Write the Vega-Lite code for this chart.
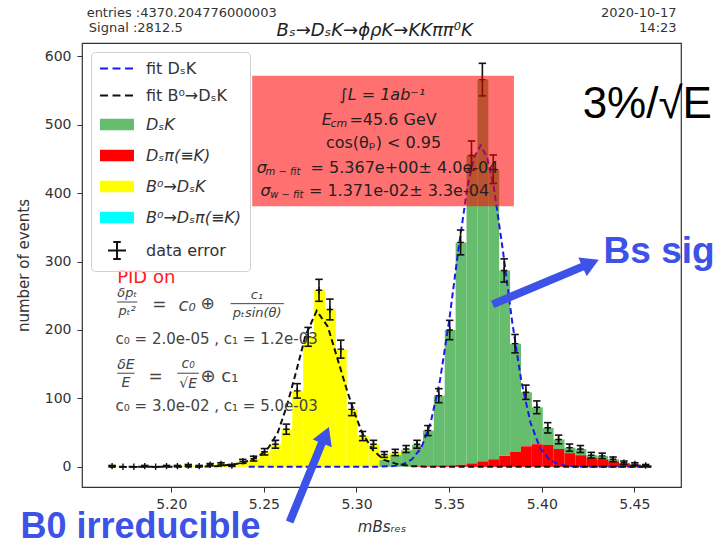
{
  "$schema": "https://vega.github.io/schema/vega-lite/v6.json",
  "width": 599,
  "height": 444,
  "autosize": {"type": "none"},
  "padding": {"left": 82, "top": 43, "right": 39, "bottom": 58},
  "background": "white",
  "config": {
    "font": "DejaVu Sans",
    "view": {"stroke": "#333", "strokeWidth": 1.2},
    "axis": {"grid": false, "domain": false, "tickColor": "#333", "tickSize": 5, "labelColor": "#333", "labelFontSize": 14, "titleColor": "#333", "titleFontSize": 15, "titleFontWeight": "normal", "labelFont": "DejaVu Sans", "titleFont": "DejaVu Sans"}
  },
  "data": {"values": [{}]},
  "datasets": {
    "hist": [
      {"lo": 5.1651, "hi": 5.17098, "comp": "B⁰→DₛK", "n": 1},
      {"lo": 5.18274, "hi": 5.18862, "comp": "B⁰→DₛK", "n": 1},
      {"lo": 5.1945, "hi": 5.20038, "comp": "B⁰→DₛK", "n": 1},
      {"lo": 5.20038, "hi": 5.20626, "comp": "B⁰→DₛK", "n": 1},
      {"lo": 5.20626, "hi": 5.21214, "comp": "B⁰→DₛK", "n": 2},
      {"lo": 5.21214, "hi": 5.21802, "comp": "B⁰→DₛK", "n": 1},
      {"lo": 5.21802, "hi": 5.2239, "comp": "B⁰→DₛK", "n": 3},
      {"lo": 5.2239, "hi": 5.22978, "comp": "B⁰→DₛK", "n": 4},
      {"lo": 5.22978, "hi": 5.23566, "comp": "B⁰→DₛK", "n": 2},
      {"lo": 5.23566, "hi": 5.24154, "comp": "B⁰→DₛK", "n": 8},
      {"lo": 5.24154, "hi": 5.24742, "comp": "B⁰→DₛK", "n": 12},
      {"lo": 5.24742, "hi": 5.2533, "comp": "B⁰→DₛK", "n": 22},
      {"lo": 5.2533, "hi": 5.25918, "comp": "B⁰→DₛK", "n": 33},
      {"lo": 5.25918, "hi": 5.26506, "comp": "B⁰→DₛK", "n": 55},
      {"lo": 5.26506, "hi": 5.27094, "comp": "B⁰→DₛK", "n": 111},
      {"lo": 5.27094, "hi": 5.27682, "comp": "B⁰→DₛK", "n": 190},
      {"lo": 5.27682, "hi": 5.2827, "comp": "B⁰→DₛK", "n": 258},
      {"lo": 5.2827, "hi": 5.28858, "comp": "B⁰→DₛK", "n": 230},
      {"lo": 5.28858, "hi": 5.29446, "comp": "B⁰→DₛK", "n": 172},
      {"lo": 5.29446, "hi": 5.30034, "comp": "B⁰→DₛK", "n": 84},
      {"lo": 5.30034, "hi": 5.30622, "comp": "B⁰→DₛK", "n": 45},
      {"lo": 5.30622, "hi": 5.3121, "comp": "B⁰→DₛK", "n": 33},
      {"lo": 5.3121, "hi": 5.31798, "comp": "B⁰→DₛK", "n": 8},
      {"lo": 5.3121, "hi": 5.31798, "comp": "DₛK", "n": 10},
      {"lo": 5.31798, "hi": 5.32386, "comp": "B⁰→DₛK", "n": 4},
      {"lo": 5.31798, "hi": 5.32386, "comp": "DₛK", "n": 17},
      {"lo": 5.32386, "hi": 5.32974, "comp": "B⁰→DₛK", "n": 2},
      {"lo": 5.32386, "hi": 5.32974, "comp": "DₛK", "n": 24},
      {"lo": 5.32974, "hi": 5.33562, "comp": "DₛK", "n": 31},
      {"lo": 5.32974, "hi": 5.33562, "comp": "Dₛπ(≡K)", "n": 1},
      {"lo": 5.33562, "hi": 5.3415, "comp": "DₛK", "n": 52},
      {"lo": 5.33562, "hi": 5.3415, "comp": "Dₛπ(≡K)", "n": 1},
      {"lo": 5.3415, "hi": 5.34738, "comp": "DₛK", "n": 102},
      {"lo": 5.3415, "hi": 5.34738, "comp": "Dₛπ(≡K)", "n": 2},
      {"lo": 5.34738, "hi": 5.35326, "comp": "DₛK", "n": 198},
      {"lo": 5.34738, "hi": 5.35326, "comp": "Dₛπ(≡K)", "n": 2},
      {"lo": 5.35326, "hi": 5.35914, "comp": "DₛK", "n": 325},
      {"lo": 5.35326, "hi": 5.35914, "comp": "Dₛπ(≡K)", "n": 3},
      {"lo": 5.35914, "hi": 5.36502, "comp": "DₛK", "n": 450},
      {"lo": 5.35914, "hi": 5.36502, "comp": "Dₛπ(≡K)", "n": 5},
      {"lo": 5.36502, "hi": 5.3709, "comp": "DₛK", "n": 558},
      {"lo": 5.36502, "hi": 5.3709, "comp": "Dₛπ(≡K)", "n": 8},
      {"lo": 5.3709, "hi": 5.37678, "comp": "DₛK", "n": 424},
      {"lo": 5.3709, "hi": 5.37678, "comp": "Dₛπ(≡K)", "n": 11},
      {"lo": 5.37678, "hi": 5.38266, "comp": "DₛK", "n": 271},
      {"lo": 5.37678, "hi": 5.38266, "comp": "Dₛπ(≡K)", "n": 16},
      {"lo": 5.38266, "hi": 5.38854, "comp": "DₛK", "n": 158},
      {"lo": 5.38266, "hi": 5.38854, "comp": "Dₛπ(≡K)", "n": 22},
      {"lo": 5.38854, "hi": 5.39442, "comp": "DₛK", "n": 79},
      {"lo": 5.38854, "hi": 5.39442, "comp": "Dₛπ(≡K)", "n": 30},
      {"lo": 5.39442, "hi": 5.4003, "comp": "DₛK", "n": 54},
      {"lo": 5.39442, "hi": 5.4003, "comp": "Dₛπ(≡K)", "n": 33},
      {"lo": 5.4003, "hi": 5.40618, "comp": "DₛK", "n": 25},
      {"lo": 5.4003, "hi": 5.40618, "comp": "Dₛπ(≡K)", "n": 32},
      {"lo": 5.40618, "hi": 5.41206, "comp": "DₛK", "n": 14},
      {"lo": 5.40618, "hi": 5.41206, "comp": "Dₛπ(≡K)", "n": 26},
      {"lo": 5.41206, "hi": 5.41794, "comp": "DₛK", "n": 8},
      {"lo": 5.41206, "hi": 5.41794, "comp": "Dₛπ(≡K)", "n": 20},
      {"lo": 5.41794, "hi": 5.42382, "comp": "DₛK", "n": 9},
      {"lo": 5.41794, "hi": 5.42382, "comp": "Dₛπ(≡K)", "n": 17},
      {"lo": 5.42382, "hi": 5.4297, "comp": "DₛK", "n": 4},
      {"lo": 5.42382, "hi": 5.4297, "comp": "Dₛπ(≡K)", "n": 13},
      {"lo": 5.4297, "hi": 5.43558, "comp": "DₛK", "n": 5},
      {"lo": 5.4297, "hi": 5.43558, "comp": "Dₛπ(≡K)", "n": 11},
      {"lo": 5.43558, "hi": 5.44146, "comp": "DₛK", "n": 3},
      {"lo": 5.43558, "hi": 5.44146, "comp": "Dₛπ(≡K)", "n": 8},
      {"lo": 5.44146, "hi": 5.44734, "comp": "DₛK", "n": 1},
      {"lo": 5.44146, "hi": 5.44734, "comp": "Dₛπ(≡K)", "n": 5},
      {"lo": 5.44734, "hi": 5.45322, "comp": "DₛK", "n": 1},
      {"lo": 5.44734, "hi": 5.45322, "comp": "Dₛπ(≡K)", "n": 3},
      {"lo": 5.45322, "hi": 5.4591, "comp": "Dₛπ(≡K)", "n": 2}
    ],
    "points": [
      {"m": 5.16804, "n": 1, "elo": 0, "ehi": 2},
      {"m": 5.17392, "n": 0, "elo": 0, "ehi": 0},
      {"m": 5.1798, "n": 0, "elo": 0, "ehi": 0},
      {"m": 5.18568, "n": 1, "elo": 0, "ehi": 2},
      {"m": 5.19156, "n": 0, "elo": 0, "ehi": 0},
      {"m": 5.19744, "n": 1, "elo": 0, "ehi": 2},
      {"m": 5.20332, "n": 1, "elo": 0, "ehi": 2},
      {"m": 5.2092, "n": 2, "elo": 0.59, "ehi": 3.41},
      {"m": 5.21508, "n": 1, "elo": 0, "ehi": 2},
      {"m": 5.22096, "n": 3, "elo": 1.27, "ehi": 4.73},
      {"m": 5.22684, "n": 4, "elo": 2, "ehi": 6},
      {"m": 5.23272, "n": 2, "elo": 0.59, "ehi": 3.41},
      {"m": 5.2386, "n": 8, "elo": 5.17, "ehi": 10.83},
      {"m": 5.24448, "n": 12, "elo": 8.54, "ehi": 15.46},
      {"m": 5.25036, "n": 22, "elo": 17.31, "ehi": 26.69},
      {"m": 5.25624, "n": 33, "elo": 27.26, "ehi": 38.74},
      {"m": 5.26212, "n": 55, "elo": 47.58, "ehi": 62.42},
      {"m": 5.268, "n": 111, "elo": 100.46, "ehi": 121.54},
      {"m": 5.27388, "n": 190, "elo": 176.22, "ehi": 203.78},
      {"m": 5.27976, "n": 258, "elo": 241.94, "ehi": 274.06},
      {"m": 5.28564, "n": 230, "elo": 214.83, "ehi": 245.17},
      {"m": 5.29152, "n": 172, "elo": 158.89, "ehi": 185.11},
      {"m": 5.2974, "n": 84, "elo": 74.83, "ehi": 93.17},
      {"m": 5.30328, "n": 45, "elo": 38.29, "ehi": 51.71},
      {"m": 5.30916, "n": 33, "elo": 27.26, "ehi": 38.74},
      {"m": 5.31504, "n": 18, "elo": 13.76, "ehi": 22.24},
      {"m": 5.32092, "n": 21, "elo": 16.42, "ehi": 25.58},
      {"m": 5.3268, "n": 26, "elo": 20.9, "ehi": 31.1},
      {"m": 5.33268, "n": 33, "elo": 27.26, "ehi": 38.74},
      {"m": 5.33856, "n": 53, "elo": 45.72, "ehi": 60.28},
      {"m": 5.34444, "n": 104, "elo": 93.8, "ehi": 114.2},
      {"m": 5.35032, "n": 200, "elo": 185.86, "ehi": 214.14},
      {"m": 5.3562, "n": 328, "elo": 309.89, "ehi": 346.11},
      {"m": 5.36208, "n": 455, "elo": 433.67, "ehi": 476.33},
      {"m": 5.36796, "n": 566, "elo": 542.21, "ehi": 589.79},
      {"m": 5.37384, "n": 435, "elo": 414.14, "ehi": 455.86},
      {"m": 5.37972, "n": 287, "elo": 270.06, "ehi": 303.94},
      {"m": 5.3856, "n": 180, "elo": 166.58, "ehi": 193.42},
      {"m": 5.39148, "n": 109, "elo": 98.56, "ehi": 119.44},
      {"m": 5.39736, "n": 87, "elo": 77.67, "ehi": 96.33},
      {"m": 5.40324, "n": 57, "elo": 49.45, "ehi": 64.55},
      {"m": 5.40912, "n": 40, "elo": 33.68, "ehi": 46.32},
      {"m": 5.415, "n": 28, "elo": 22.71, "ehi": 33.29},
      {"m": 5.42088, "n": 26, "elo": 20.9, "ehi": 31.1},
      {"m": 5.42676, "n": 17, "elo": 12.88, "ehi": 21.12},
      {"m": 5.43264, "n": 16, "elo": 12, "ehi": 20},
      {"m": 5.43852, "n": 11, "elo": 7.68, "ehi": 14.32},
      {"m": 5.4444, "n": 6, "elo": 3.55, "ehi": 8.45},
      {"m": 5.45028, "n": 4, "elo": 2, "ehi": 6},
      {"m": 5.45616, "n": 2, "elo": 0.59, "ehi": 3.41}
    ],
    "fitS": [
      {"x": 5.2418, "y": 0}, {"x": 5.3, "y": 0}, {"x": 5.31, "y": 0.1}, {"x": 5.32, "y": 1.1},
      {"x": 5.325, "y": 3.7}, {"x": 5.33, "y": 11}, {"x": 5.335, "y": 28}, {"x": 5.34, "y": 64},
      {"x": 5.345, "y": 125}, {"x": 5.35, "y": 213}, {"x": 5.355, "y": 317}, {"x": 5.36, "y": 411},
      {"x": 5.3635, "y": 452}, {"x": 5.367, "y": 470}, {"x": 5.3705, "y": 452}, {"x": 5.374, "y": 411},
      {"x": 5.379, "y": 317}, {"x": 5.384, "y": 213}, {"x": 5.389, "y": 125}, {"x": 5.394, "y": 64},
      {"x": 5.399, "y": 28}, {"x": 5.404, "y": 11}, {"x": 5.409, "y": 3.7}, {"x": 5.414, "y": 1.1},
      {"x": 5.42, "y": 0.1}, {"x": 5.4591, "y": 0}
    ],
    "fitB": [
      {"x": 5.1667, "y": 0}, {"x": 5.215, "y": 0}, {"x": 5.225, "y": 1}, {"x": 5.235, "y": 4},
      {"x": 5.242, "y": 9}, {"x": 5.2475, "y": 16}, {"x": 5.2525, "y": 28}, {"x": 5.2575, "y": 50},
      {"x": 5.2625, "y": 90}, {"x": 5.2675, "y": 140}, {"x": 5.2725, "y": 192}, {"x": 5.2785, "y": 228},
      {"x": 5.2845, "y": 205}, {"x": 5.2895, "y": 160}, {"x": 5.2945, "y": 115}, {"x": 5.2985, "y": 82},
      {"x": 5.303, "y": 50}, {"x": 5.309, "y": 24}, {"x": 5.315, "y": 10}, {"x": 5.322, "y": 4},
      {"x": 5.33, "y": 1}, {"x": 5.34, "y": 0}, {"x": 5.4591, "y": 0}
    ]
  },
  "layer": [
    {
      "data": {"name": "hist"},
      "mark": {"type": "bar", "binSpacing": 0},
      "encoding": {
        "x": {"field": "lo", "type": "quantitative", "bin": "binned",
          "scale": {"domain": [5.1518, 5.4752], "nice": false, "zero": false},
          "axis": {"values": [5.2, 5.25, 5.3, 5.35, 5.4, 5.45], "format": ".2f", "title": "mBsᵣₑₛ", "titleFontStyle": "italic", "labelPadding": 5, "titlePadding": 8}},
        "x2": {"field": "hi"},
        "y": {"field": "n", "type": "quantitative", "stack": "zero",
          "scale": {"domain": [-29.5, 619.5], "nice": false, "zero": false},
          "axis": {"values": [0, 100, 200, 300, 400, 500, 600], "title": "number of events", "labelPadding": 6, "titlePadding": 13}},
        "color": {"field": "comp", "type": "nominal",
          "scale": {"domain": ["fit DₛK", "fit B⁰→DₛK", "DₛK", "Dₛπ(≡K)", "B⁰→DₛK", "B⁰→Dₛπ(≡K)", "data error"],
                    "range": ["#1a1aee", "#111111", "#66bd6e", "#ff0000", "#ffff00", "#00ffff", "#111111"]},
          "legend": {
            "orient": "top-left", "offset": 9, "title": null,
            "labelFont": "DejaVu Sans", "labelFontSize": 16, "labelColor": "#333", "labelOffset": 30,
            "symbolSize": 225, "rowPadding": 10, "padding": 8,
            "fillColor": "rgba(255,255,255,0.8)", "strokeColor": "#d0d0d0", "cornerRadius": 4,
            "encode": {
              "symbols": {"update": {
                "shape": {"signal": "indexof(['fit DₛK','fit B⁰→DₛK'], datum.value) >= 0 ? 'M-1,0H0.07M0.67,0H1.73M2.33,0H3.4' : (datum.value === 'data error' ? 'M0.07,0H2.47M1.27,-1.13V1.13M0.77,-1.13H1.77M0.77,1.13H1.77' : 'M-1,-0.78H3.53V0.78H-1Z')"},
                "fill": {"signal": "indexof(['fit DₛK','fit B⁰→DₛK','data error'], datum.value) >= 0 ? 'transparent' : scale('color', datum.value)"},
                "stroke": {"signal": "indexof(['fit DₛK','fit B⁰→DₛK','data error'], datum.value) >= 0 ? scale('color', datum.value) : 'transparent'"},
                "strokeWidth": {"value": 2},
                "opacity": {"value": 1}
              }},
              "labels": {"update": {
                "fontStyle": {"signal": "indexof(['DₛK','Dₛπ(≡K)','B⁰→DₛK','B⁰→Dₛπ(≡K)'], datum.value) >= 0 ? 'italic' : 'normal'"}
              }}
            }
          }
        }
      }
    },
    {
      "data": {"name": "fitS"},
      "mark": {"type": "line", "color": "#1a1aee", "strokeWidth": 2, "strokeDash": [6, 3.5]},
      "encoding": {"x": {"field": "x", "type": "quantitative"}, "y": {"field": "y", "type": "quantitative"}}
    },
    {
      "data": {"name": "fitB"},
      "mark": {"type": "line", "color": "#111111", "strokeWidth": 2, "strokeDash": [6, 3.5]},
      "encoding": {"x": {"field": "x", "type": "quantitative"}, "y": {"field": "y", "type": "quantitative"}}
    },
    {
      "data": {"name": "points"},
      "mark": {"type": "rule", "color": "#111111", "strokeWidth": 1.6},
      "encoding": {"x": {"field": "m", "type": "quantitative"}, "y": {"field": "elo", "type": "quantitative"}, "y2": {"field": "ehi"}}
    },
    {
      "data": {"name": "points"},
      "mark": {"type": "point", "shape": "M-1,0H1", "size": 56, "filled": false, "color": "#111111", "strokeWidth": 1.6, "opacity": 1},
      "encoding": {"x": {"field": "m", "type": "quantitative"}, "y": {"field": "elo", "type": "quantitative"}}
    },
    {
      "data": {"name": "points"},
      "mark": {"type": "point", "shape": "M-1,0H1", "size": 56, "filled": false, "color": "#111111", "strokeWidth": 1.6, "opacity": 1},
      "encoding": {"x": {"field": "m", "type": "quantitative"}, "y": {"field": "ehi", "type": "quantitative"}}
    },
    {
      "data": {"name": "points"},
      "mark": {"type": "point", "shape": "M-1,0H1M0,-1V1", "size": 42, "filled": false, "color": "#111111", "strokeWidth": 1.4, "opacity": 1},
      "encoding": {"x": {"field": "m", "type": "quantitative"}, "y": {"field": "n", "type": "quantitative"}}
    },
    {
      "mark": {"type": "rect", "fill": "#ff0000", "opacity": 0.56},
      "encoding": {"x": {"datum": 5.2437}, "x2": {"datum": 5.385}, "y": {"datum": 571.8}, "y2": {"datum": 381}}
    },
    {"mark": {"type": "text", "text": "∫L = 1ab⁻¹", "align": "center", "baseline": "middle", "fontSize": 16, "fontStyle": "italic", "color": "#222"},
     "encoding": {"x": {"datum": 5.3139}, "y": {"datum": 544.1}}},
    {"mark": {"type": "text", "text": "E", "align": "left", "baseline": "middle", "fontSize": 16, "fontStyle": "italic", "color": "#222"},
     "encoding": {"x": {"datum": 5.2812}, "y": {"datum": 507.6}}},
    {"mark": {"type": "text", "text": "cm", "align": "left", "baseline": "middle", "fontSize": 11, "fontStyle": "italic", "color": "#222"},
     "encoding": {"x": {"datum": 5.2859}, "y": {"datum": 501.8}}},
    {"mark": {"type": "text", "text": "=45.6 GeV", "align": "left", "baseline": "middle", "fontSize": 16, "color": "#222"},
     "encoding": {"x": {"datum": 5.2962}, "y": {"datum": 507.6}}},
    {"mark": {"type": "text", "text": "cos(θₚ) < 0.95", "align": "center", "baseline": "middle", "fontSize": 16, "color": "#222"},
     "encoding": {"x": {"datum": 5.3146}, "y": {"datum": 473.6}}},
    {"mark": {"type": "text", "text": "σ", "align": "left", "baseline": "middle", "fontSize": 16, "fontStyle": "italic", "color": "#222"},
     "encoding": {"x": {"datum": 5.2462}, "y": {"datum": 437.1}}},
    {"mark": {"type": "text", "text": "m − fit", "align": "left", "baseline": "middle", "fontSize": 10, "fontStyle": "italic", "color": "#222"},
     "encoding": {"x": {"datum": 5.2509}, "y": {"datum": 431.2}}},
    {"mark": {"type": "text", "text": "= 5.367e+00± 4.0e-04", "align": "left", "baseline": "middle", "fontSize": 16, "color": "#222"},
     "encoding": {"x": {"datum": 5.2752}, "y": {"datum": 437.1}}},
    {"mark": {"type": "text", "text": "σ", "align": "left", "baseline": "middle", "fontSize": 16, "fontStyle": "italic", "color": "#222"},
     "encoding": {"x": {"datum": 5.2482}, "y": {"datum": 402.9}}},
    {"mark": {"type": "text", "text": "w − fit", "align": "left", "baseline": "middle", "fontSize": 10, "fontStyle": "italic", "color": "#222"},
     "encoding": {"x": {"datum": 5.2534}, "y": {"datum": 397.0}}},
    {"mark": {"type": "text", "text": "= 1.371e-02± 3.3e-04", "align": "left", "baseline": "middle", "fontSize": 16, "color": "#222"},
     "encoding": {"x": {"datum": 5.2743}, "y": {"datum": 402.9}}},
    {"mark": {"type": "text", "text": "PID on", "align": "left", "baseline": "middle", "fontSize": 18, "color": "#ff1a1a"},
     "encoding": {"x": {"datum": 5.1708}, "y": {"datum": 276.5}}},
    {"mark": {"type": "text", "text": "δpₜ", "align": "center", "baseline": "middle", "fontSize": 13, "fontStyle": "italic", "color": "#444"},
     "encoding": {"x": {"datum": 5.1762}, "y": {"datum": 253.6}}},
    {"mark": {"type": "rule", "color": "#444", "strokeWidth": 1},
     "encoding": {"x": {"datum": 5.1708}, "x2": {"datum": 5.1816}, "y": {"datum": 240.9}}},
    {"mark": {"type": "text", "text": "pₜ²", "align": "center", "baseline": "middle", "fontSize": 13, "fontStyle": "italic", "color": "#444"},
     "encoding": {"x": {"datum": 5.1762}, "y": {"datum": 227.3}}},
    {"mark": {"type": "text", "text": "=", "align": "left", "baseline": "middle", "fontSize": 17, "color": "#444"},
     "encoding": {"x": {"datum": 5.1897}, "y": {"datum": 236}}},
    {"mark": {"type": "text", "text": "c₀", "align": "left", "baseline": "middle", "fontSize": 18, "fontStyle": "italic", "color": "#444"},
     "encoding": {"x": {"datum": 5.2039}, "y": {"datum": 235}}},
    {"mark": {"type": "text", "text": "⊕", "align": "left", "baseline": "middle", "fontSize": 17, "color": "#444"},
     "encoding": {"x": {"datum": 5.2158}, "y": {"datum": 237.5}}},
    {"mark": {"type": "text", "text": "c₁", "align": "center", "baseline": "middle", "fontSize": 13, "fontStyle": "italic", "color": "#444"},
     "encoding": {"x": {"datum": 5.2462}, "y": {"datum": 250.7}}},
    {"mark": {"type": "rule", "color": "#444", "strokeWidth": 1},
     "encoding": {"x": {"datum": 5.232}, "x2": {"datum": 5.2608}, "y": {"datum": 238.5}}},
    {"mark": {"type": "text", "text": "pₜsin(θ)", "align": "center", "baseline": "middle", "fontSize": 13, "fontStyle": "italic", "color": "#444"},
     "encoding": {"x": {"datum": 5.2464}, "y": {"datum": 224.4}}},
    {"mark": {"type": "text", "text": "c₀ = 2.0e-05 , c₁ = 1.2e-03", "align": "left", "baseline": "middle", "fontSize": 15, "color": "#444"},
     "encoding": {"x": {"datum": 5.1699}, "y": {"datum": 187.4}}},
    {"mark": {"type": "text", "text": "δE", "align": "center", "baseline": "middle", "fontSize": 14, "fontStyle": "italic", "color": "#444"},
     "encoding": {"x": {"datum": 5.1755}, "y": {"datum": 148.5}}},
    {"mark": {"type": "rule", "color": "#444", "strokeWidth": 1},
     "encoding": {"x": {"datum": 5.1708}, "x2": {"datum": 5.1802}, "y": {"datum": 136.8}}},
    {"mark": {"type": "text", "text": "E", "align": "center", "baseline": "middle", "fontSize": 14, "fontStyle": "italic", "color": "#444"},
     "encoding": {"x": {"datum": 5.1755}, "y": {"datum": 122.2}}},
    {"mark": {"type": "text", "text": "=", "align": "left", "baseline": "middle", "fontSize": 17, "color": "#444"},
     "encoding": {"x": {"datum": 5.1877}, "y": {"datum": 132}}},
    {"mark": {"type": "text", "text": "c₀", "align": "center", "baseline": "middle", "fontSize": 14, "fontStyle": "italic", "color": "#444"},
     "encoding": {"x": {"datum": 5.2091}, "y": {"datum": 149.9}}},
    {"mark": {"type": "rule", "color": "#444", "strokeWidth": 1},
     "encoding": {"x": {"datum": 5.2032}, "x2": {"datum": 5.2149}, "y": {"datum": 136.8}}},
    {"mark": {"type": "text", "text": "√E", "align": "center", "baseline": "middle", "fontSize": 14, "fontStyle": "italic", "color": "#444"},
     "encoding": {"x": {"datum": 5.2091}, "y": {"datum": 120.7}}},
    {"mark": {"type": "text", "text": "⊕ c₁", "align": "left", "baseline": "middle", "fontSize": 18, "color": "#444"},
     "encoding": {"x": {"datum": 5.2158}, "y": {"datum": 131}}},
    {"mark": {"type": "text", "text": "c₀ = 3.0e-02 , c₁ = 5.0e-03", "align": "left", "baseline": "middle", "fontSize": 15, "color": "#444"},
     "encoding": {"x": {"datum": 5.1699}, "y": {"datum": 89.1}}},
    {"mark": {"type": "text", "text": "entries :4370.204776000003", "align": "left", "baseline": "middle", "fontSize": 13, "color": "#333"},
     "encoding": {"x": {"datum": 5.1543}, "y": {"datum": 663.8}}},
    {"mark": {"type": "text", "text": "Signal :2812.5", "align": "left", "baseline": "middle", "fontSize": 13, "color": "#333"},
     "encoding": {"x": {"datum": 5.1555}, "y": {"datum": 641.9}}},
    {"mark": {"type": "text", "text": "Bₛ→DₛK→ϕρK→KKππ⁰K", "align": "center", "baseline": "middle", "fontSize": 18, "fontStyle": "italic", "color": "#222"},
     "encoding": {"x": {"datum": 5.3098}, "y": {"datum": 637.5}}},
    {"mark": {"type": "text", "text": "2020-10-17", "align": "right", "baseline": "middle", "fontSize": 13, "color": "#333"},
     "encoding": {"x": {"datum": 5.4728}, "y": {"datum": 663.8}}},
    {"mark": {"type": "text", "text": "14:23", "align": "right", "baseline": "middle", "fontSize": 13, "color": "#333"},
     "encoding": {"x": {"datum": 5.4728}, "y": {"datum": 641.9}}},
    {"mark": {"type": "rule", "color": "#3d52e6", "strokeWidth": 8},
     "encoding": {"x": {"datum": 5.2639}, "y": {"datum": -80.7}, "x2": {"datum": 5.2817}, "y2": {"datum": 37.5}}},
    {"mark": {"type": "point", "shape": "triangle-up", "size": 420, "filled": true, "color": "#3d52e6", "opacity": 1, "angle": 22},
     "encoding": {"x": {"datum": 5.2833}, "y": {"datum": 46.3}}},
    {"mark": {"type": "rule", "color": "#3d52e6", "strokeWidth": 8},
     "encoding": {"x": {"datum": 5.3735}, "y": {"datum": 237.5}, "x2": {"datum": 5.4237}, "y2": {"datum": 294.5}}},
    {"mark": {"type": "point", "shape": "triangle-up", "size": 420, "filled": true, "color": "#3d52e6", "opacity": 1, "angle": 66},
     "encoding": {"x": {"datum": 5.4264}, "y": {"datum": 297.4}}},
    {"mark": {"type": "text", "text": "3%/√E", "align": "left", "baseline": "middle", "fontSize": 44, "font": "Liberation Sans", "color": "#000"},
     "encoding": {"x": {"datum": 5.4221}, "y": {"datum": 529.5}}},
    {"mark": {"type": "text", "text": "Bs sig", "align": "left", "baseline": "middle", "fontSize": 37, "font": "Liberation Sans", "fontWeight": "bold", "color": "#3d52e6"},
     "encoding": {"x": {"datum": 5.4334}, "y": {"datum": 313.4}}},
    {"mark": {"type": "text", "text": "B0 irreducible", "align": "left", "baseline": "middle", "fontSize": 36, "font": "Liberation Sans", "fontWeight": "bold", "color": "#3d52e6"},
     "encoding": {"x": {"datum": 5.1186}, "y": {"datum": -88.5}}}
  ]
}
